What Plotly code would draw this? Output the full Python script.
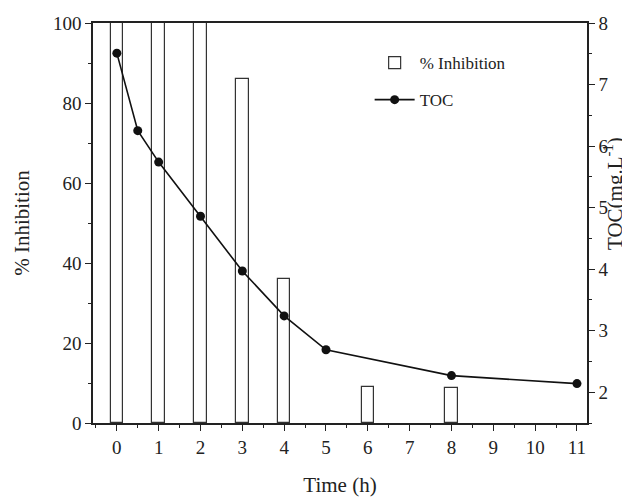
import plotly.graph_objects as go

# dados
bar_time = [0, 1, 2, 3, 4, 6, 8]
inhibition = [100, 100, 100, 86, 36, 9, 8.8]

toc_time = [0, 0.5, 1, 2, 3, 4, 5, 8, 11]
toc = [7.51, 6.25, 5.74, 4.86, 3.97, 3.24, 2.69, 2.27, 2.14]

x_ticks = list(range(0, 12))

FONT = "Liberation Serif, Times New Roman, serif"
INK = "#222222"

fig = go.Figure()

fig.add_trace(go.Bar(
    x=bar_time, y=inhibition, name="% Inhibition", width=0.3,
    marker=dict(color="white", line=dict(color="#333333", width=1.2)),
    yaxis="y", legendgroup="a",
))

fig.add_trace(go.Scatter(
    x=toc_time, y=toc, name="TOC", mode="lines+markers",
    line=dict(color="#111111", width=1.6),
    marker=dict(color="#111111", size=9),
    yaxis="y2", legendgroup="b",
))

axis_common = dict(
    showgrid=False, zeroline=False, showline=True, linecolor=INK, linewidth=1.5,
    ticks="outside", ticklen=6, tickwidth=1.3, tickcolor=INK,
    tickfont=dict(family=FONT, size=19, color=INK),
    automargin=False,
)

# a página tem 8px de margem no body -> figura um pouco menor
fig.update_layout(
    width=622, height=491,
    margin=dict(l=85, r=43, t=15, b=76),
    paper_bgcolor="white", plot_bgcolor="white",
    font=dict(family=FONT, color=INK),
    bargap=0,
    xaxis=dict(
        range=[-0.57, 11.24], tickvals=x_ticks, mirror=True,
        minor=dict(dtick=0.5, ticks="outside", ticklen=3, tickwidth=1.2, tickcolor=INK),
        title=dict(text="Time (h)", font=dict(family=FONT, size=21, color=INK), standoff=21),
        **axis_common,
    ),
    yaxis=dict(
        range=[0, 100], dtick=20,
        minor=dict(dtick=10, ticks="outside", ticklen=3, tickwidth=1.2, tickcolor=INK),
        title=dict(text="% Inhibition", font=dict(family=FONT, size=21, color=INK), standoff=18),
        **axis_common,
    ),
    yaxis2=dict(
        range=[1.5, 8], dtick=1, overlaying="y", side="right",
        minor=dict(dtick=0.5, ticks="outside", ticklen=3, tickwidth=1.2, tickcolor=INK),
        **axis_common,
    ),
    legend=dict(
        x=0.56, y=0.945, xanchor="left", yanchor="top",
        bgcolor="rgba(0,0,0,0)", font=dict(family=FONT, size=17, color=INK),
        itemwidth=40, tracegroupgap=12,
    ),
    showlegend=True,
)

# título do eixo direito, um pouco acima do centro como no original
fig.add_annotation(
    text="TOC(mg.L<sup>-1</sup>)", xref="paper", yref="paper",
    x=1.084, y=0.575, textangle=-90, showarrow=False,
    font=dict(family=FONT, size=21, color=INK),
)

fig.write_html("out.html")
